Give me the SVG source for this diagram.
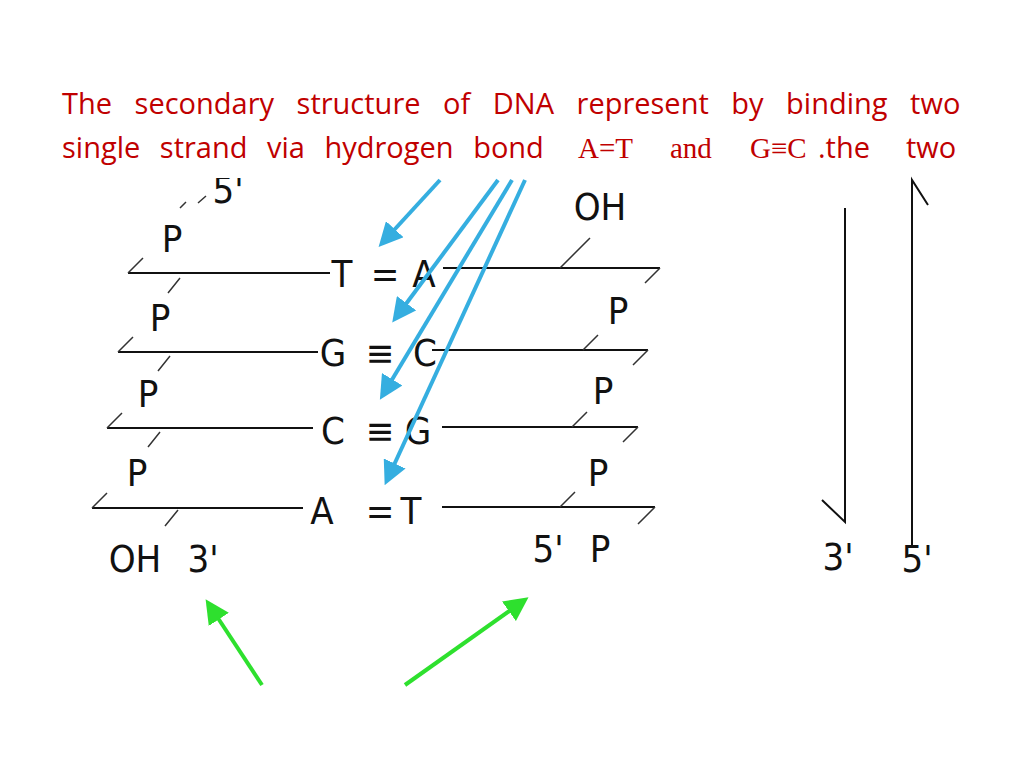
<svg xmlns="http://www.w3.org/2000/svg" width="1024" height="768" viewBox="0 0 1024 768">
<style>
.t{font-family:"Open Sans","Liberation Sans",sans-serif;font-size:29px;fill:#c00000}
.s{font-family:"Liberation Serif",serif;font-size:29px}
.l{font-family:"DejaVu Sans Condensed","DejaVu Sans",sans-serif;font-size:38px;fill:#111}
.k{stroke:#111;stroke-width:2;fill:none}
.tk{stroke:#333;stroke-width:1.5;fill:none}
.b{stroke:#35aee0;stroke-width:4;fill:none}
.g{stroke:#2ee02e;stroke-width:4;fill:none}
</style>
<defs>
<marker id="bh" markerWidth="6" markerHeight="6" refX="4" refY="3" orient="auto" markerUnits="strokeWidth"><path d="M0,0 L6,3 L0,6 z" fill="#35aee0"/></marker>
<marker id="gh" markerWidth="6" markerHeight="6" refX="4" refY="3" orient="auto" markerUnits="strokeWidth"><path d="M0,0 L6,3 L0,6 z" fill="#2ee02e"/></marker>
</defs>
<rect width="1024" height="768" fill="#fff"/>
<g id="caption">
<text class="t" x="62" y="114" style="word-spacing:15px">The secondary structure of DNA represent by binding two</text>
<text class="t" x="62" y="158" style="word-spacing:12px">single strand via hydrogen bond</text>
<text class="t" y="158"><tspan class="s" x="578">A=T</tspan><tspan class="s" x="670">and</tspan><tspan class="s" x="750">G≡C</tspan><tspan x="818">.the</tspan><tspan x="906">two</tspan></text>
</g>
<g id="strands">
<path class="k" d="M128,273H330 M443,268H660 M118,352H318 M432,350H648 M107,428H313 M442,427H638 M92,508H303 M442,507H655"/>
<path class="tk" d="M128,273L143,258 M118,352L133,337 M107,428L122,413 M92,508L107,493 M660,268L645,283 M648,350L633,365 M638,427L623,442 M655,507L638,524 M180,278L168,293 M170,356L158,371 M160,432L148,447 M178,510L165,526 M560,268L590,238 M583,350L598,335 M572,427L587,412 M560,507L575,492 M180,208L186,202 M198,203L206,196"/>
</g>
<g id="bases">
<text class="l" x="342" y="287" text-anchor="middle">T</text><text class="l" x="385" y="287" text-anchor="middle">=</text><text class="l" x="424" y="287" text-anchor="middle">A</text>
<text class="l" x="333" y="366" text-anchor="middle">G</text><text class="l" x="380" y="366" text-anchor="middle">≡</text><text class="l" x="425" y="366" text-anchor="middle">C</text>
<text class="l" x="333" y="444" text-anchor="middle">C</text><text class="l" x="380" y="444" text-anchor="middle">≡</text><text class="l" x="418" y="444" text-anchor="middle">G</text>
<text class="l" x="322" y="524" text-anchor="middle">A</text><text class="l" x="380" y="524" text-anchor="middle">=</text><text class="l" x="411" y="524" text-anchor="middle">T</text>
</g>
<g id="labels">
<text class="l" x="172" y="252" text-anchor="middle">P</text>
<text class="l" x="160" y="331" text-anchor="middle">P</text>
<text class="l" x="148" y="407" text-anchor="middle">P</text>
<text class="l" x="137" y="486" text-anchor="middle">P</text>
<text class="l" x="618" y="324" text-anchor="middle">P</text>
<text class="l" x="603" y="404" text-anchor="middle">P</text>
<text class="l" x="598" y="486" text-anchor="middle">P</text>
<text class="l" x="600" y="562" text-anchor="middle">P</text>
<text class="l" x="548" y="562" text-anchor="middle">5'</text>
<text class="l" x="600" y="220" text-anchor="middle">OH</text>
<text class="l" x="135" y="572" text-anchor="middle">OH</text>
<text class="l" x="203" y="572" text-anchor="middle">3'</text>
<text class="l" x="838" y="570" text-anchor="middle">3'</text>
<text class="l" x="917" y="572" text-anchor="middle">5'</text>
<text class="l" x="228" y="203" text-anchor="middle">5'</text>
</g>
<rect x="0" y="166" width="1024" height="12" fill="#fff"/>
<g id="connectors">
<path class="b" d="M440,180L384,241" marker-end="url(#bh)"/>
<path class="b" d="M498,180L397,316" marker-end="url(#bh)"/>
<path class="b" d="M512,180L384,393" marker-end="url(#bh)"/>
<path class="b" d="M525,180L388,478" marker-end="url(#bh)"/>
<path class="g" d="M262,685L210,606" marker-end="url(#gh)"/>
<path class="g" d="M405,685L522,602" marker-end="url(#gh)"/>
<path class="k" stroke-width="3" d="M845,208V522L822,500"/>
<path class="k" stroke-width="3" d="M912,545V180L928,205"/>
</g>
</svg>
